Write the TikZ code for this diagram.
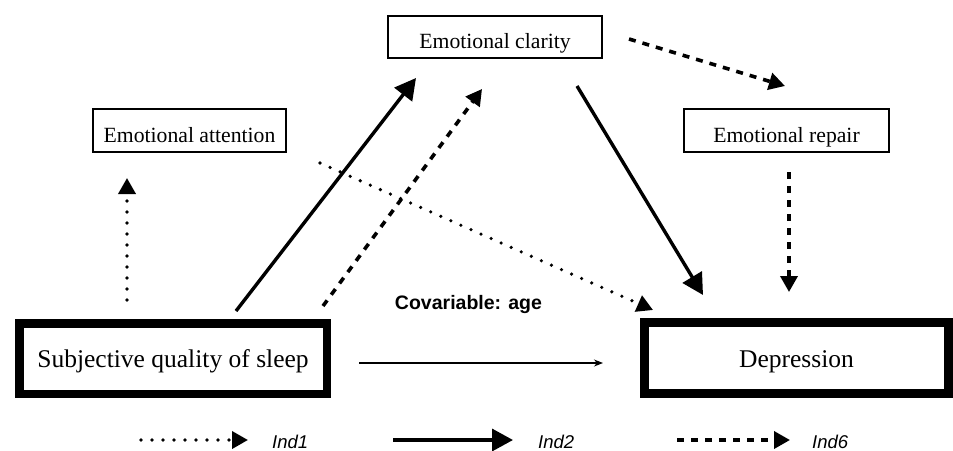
\documentclass[tikz,border=0pt]{standalone}
\usepackage{fontspec}
\setmainfont{Liberation Serif}
\setsansfont{Liberation Sans}
\usetikzlibrary{arrows.meta}
\tikzset{
  thinbox/.style={draw, line width=1.2pt, inner sep=0pt, text height=23pt, text depth=0pt,
     font=\fontsize{21.7}{24}\selectfont},
  thickbox/.style={draw, line width=8.5pt, inner sep=0pt, text height=18.5pt, text depth=0pt,
     font=\fontsize{25.5}{28}\selectfont},
  indone/.style={line width=3.6pt, line cap=round, dash pattern=on 0pt off 11pt,
     -{Triangle[length=16pt,width=17pt]}},
  indtwo/.style={line width=3.4pt, -{Triangle[length=21pt,width=22pt]}},
  indsix/.style={line width=3.6pt, dash pattern=on 7pt off 7pt,
     -{Triangle[length=16pt,width=17pt]}},
  direct/.style={line width=1.1pt, -{Stealth[length=9pt,width=7pt]}},
  legtext/.style={font=\sffamily\itshape\fontsize{18.5}{22}\selectfont, anchor=base west, inner sep=0pt},
}
\begin{document}
\begin{tikzpicture}[x=1pt,y=-1pt]
\useasboundingbox (0,0) rectangle (953,450);
% boxes
\node[thinbox, minimum width=214pt, minimum height=42pt] (clarity) at (495,37) {Emotional clarity};
\node[thinbox, minimum width=193pt, minimum height=43pt] (attention) at (189.5,130.5) {Emotional attention};
\node[thinbox, minimum width=205pt, minimum height=43pt] (repair) at (786.5,130.5) {Emotional repair};
\node[thickbox, minimum width=307.5pt, minimum height=70.5pt] (sleep) at (173,358.5) {Subjective quality of sleep};
\node[thickbox, minimum width=304pt, minimum height=71pt] (depression) at (796.5,358) {Depression};
\node[font=\sffamily\bfseries\fontsize{19.5}{22}\selectfont, inner sep=0pt, anchor=base] (cov) at (468.5,309) {Covariable: age};
% connector end points
\coordinate (s1) at (236,311); \coordinate (e1) at (416,78);
\coordinate (s2) at (323,306); \coordinate (e2) at (482,89);
\coordinate (s3) at (127,300); \coordinate (e3) at (127,178);
\coordinate (s4) at (320,163); \coordinate (e4) at (653,310);
\coordinate (s5) at (577,86);  \coordinate (e5) at (703,295);
\coordinate (s6) at (629,39);  \coordinate (e6) at (785,86);
\coordinate (s7) at (789,172); \coordinate (e7) at (789,292);
\coordinate (s8) at (359,363); \coordinate (e8) at (603,363);
\draw[indtwo] (s1) -- (e1);
\draw[indsix] (s2) -- (e2);
\draw[indone] (s3) -- (e3);
\draw[indone] (s4) -- (e4);
\draw[indtwo] (s5) -- (e5);
\draw[indsix] (s6) -- (e6);
\draw[indsix] (s7) -- (e7);
\draw[direct] (s8) -- (e8);
% legend
\coordinate (l1s) at (141,440); \coordinate (l1e) at (248,440);
\coordinate (l2s) at (393,440); \coordinate (l2e) at (513,440);
\coordinate (l3s) at (677,440); \coordinate (l3e) at (790,440);
\draw[indone] (l1s) -- (l1e);
\draw[indtwo] (l2s) -- (l2e);
\draw[indsix] (l3s) -- (l3e);
\node[legtext] (t1) at (272,448) {Ind1};
\node[legtext] (t2) at (538,448) {Ind2};
\node[legtext] (t3) at (812,448) {Ind6};
\end{tikzpicture}
\end{document}
